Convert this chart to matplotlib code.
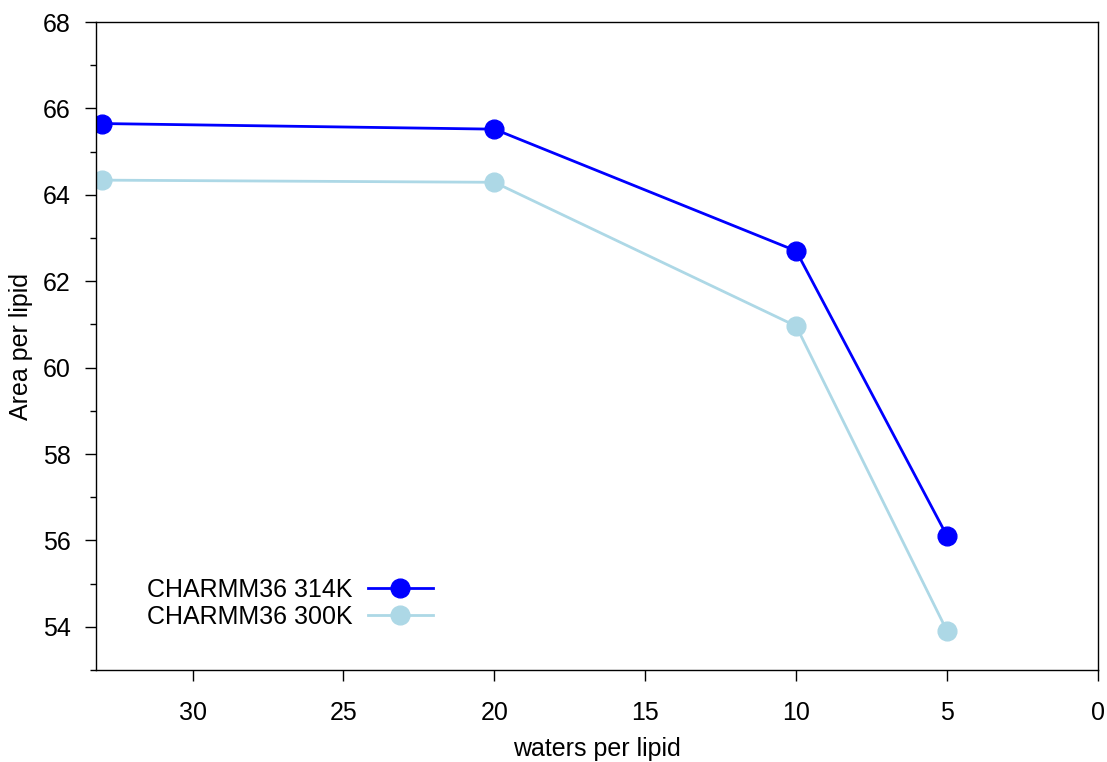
import matplotlib
matplotlib.use("Agg")
import matplotlib.pyplot as plt
from matplotlib.ticker import MultipleLocator

plt.rcParams['font.family'] = ['Liberation Sans', 'DejaVu Sans']

waters = [33, 20, 10, 5]
area_314 = [65.65, 65.52, 62.70, 56.10]
area_300 = [64.34, 64.29, 60.96, 53.90]
labels = ["CHARMM36 314K", "CHARMM36 300K"]
colors = ["#0000ff", "#add8e6"]

FS = 18

fig = plt.figure(figsize=(11.07, 7.62), dpi=100)
ax = fig.add_axes([0.0867, 0.1207, 0.9052, 0.8504])

for ys, lab, col in zip([area_314, area_300], labels, colors):
    ax.plot(waters, ys, '-o', color=col, lw=2.0, markersize=13.5, label=lab)

ax.set_xlim(33.2, 0)
ax.set_ylim(53, 68)
ax.xaxis.set_major_locator(MultipleLocator(5))
ax.yaxis.set_major_locator(MultipleLocator(2))
ax.yaxis.set_minor_locator(MultipleLocator(1))

ax.tick_params(axis='both', which='major', direction='out', length=8, width=1,
               labelsize=FS, top=False, right=False)
ax.tick_params(axis='x', which='major', pad=14)
ax.tick_params(axis='y', which='major', pad=10)
ax.tick_params(axis='y', which='minor', direction='out', length=4, width=1, right=False)
for s in ax.spines.values():
    s.set_linewidth(1)

ax.set_xlabel("waters per lipid", fontsize=FS, labelpad=9)
ax.set_ylabel("Area per lipid", fontsize=FS, labelpad=7)

ax.legend(loc='lower left', bbox_to_anchor=(0.051, 0.063), frameon=False,
          markerfirst=False, fontsize=FS, handlelength=2.6, handletextpad=0.6,
          labelspacing=0.12, borderpad=0, borderaxespad=0)

fig.savefig("out.png", dpi=100)
